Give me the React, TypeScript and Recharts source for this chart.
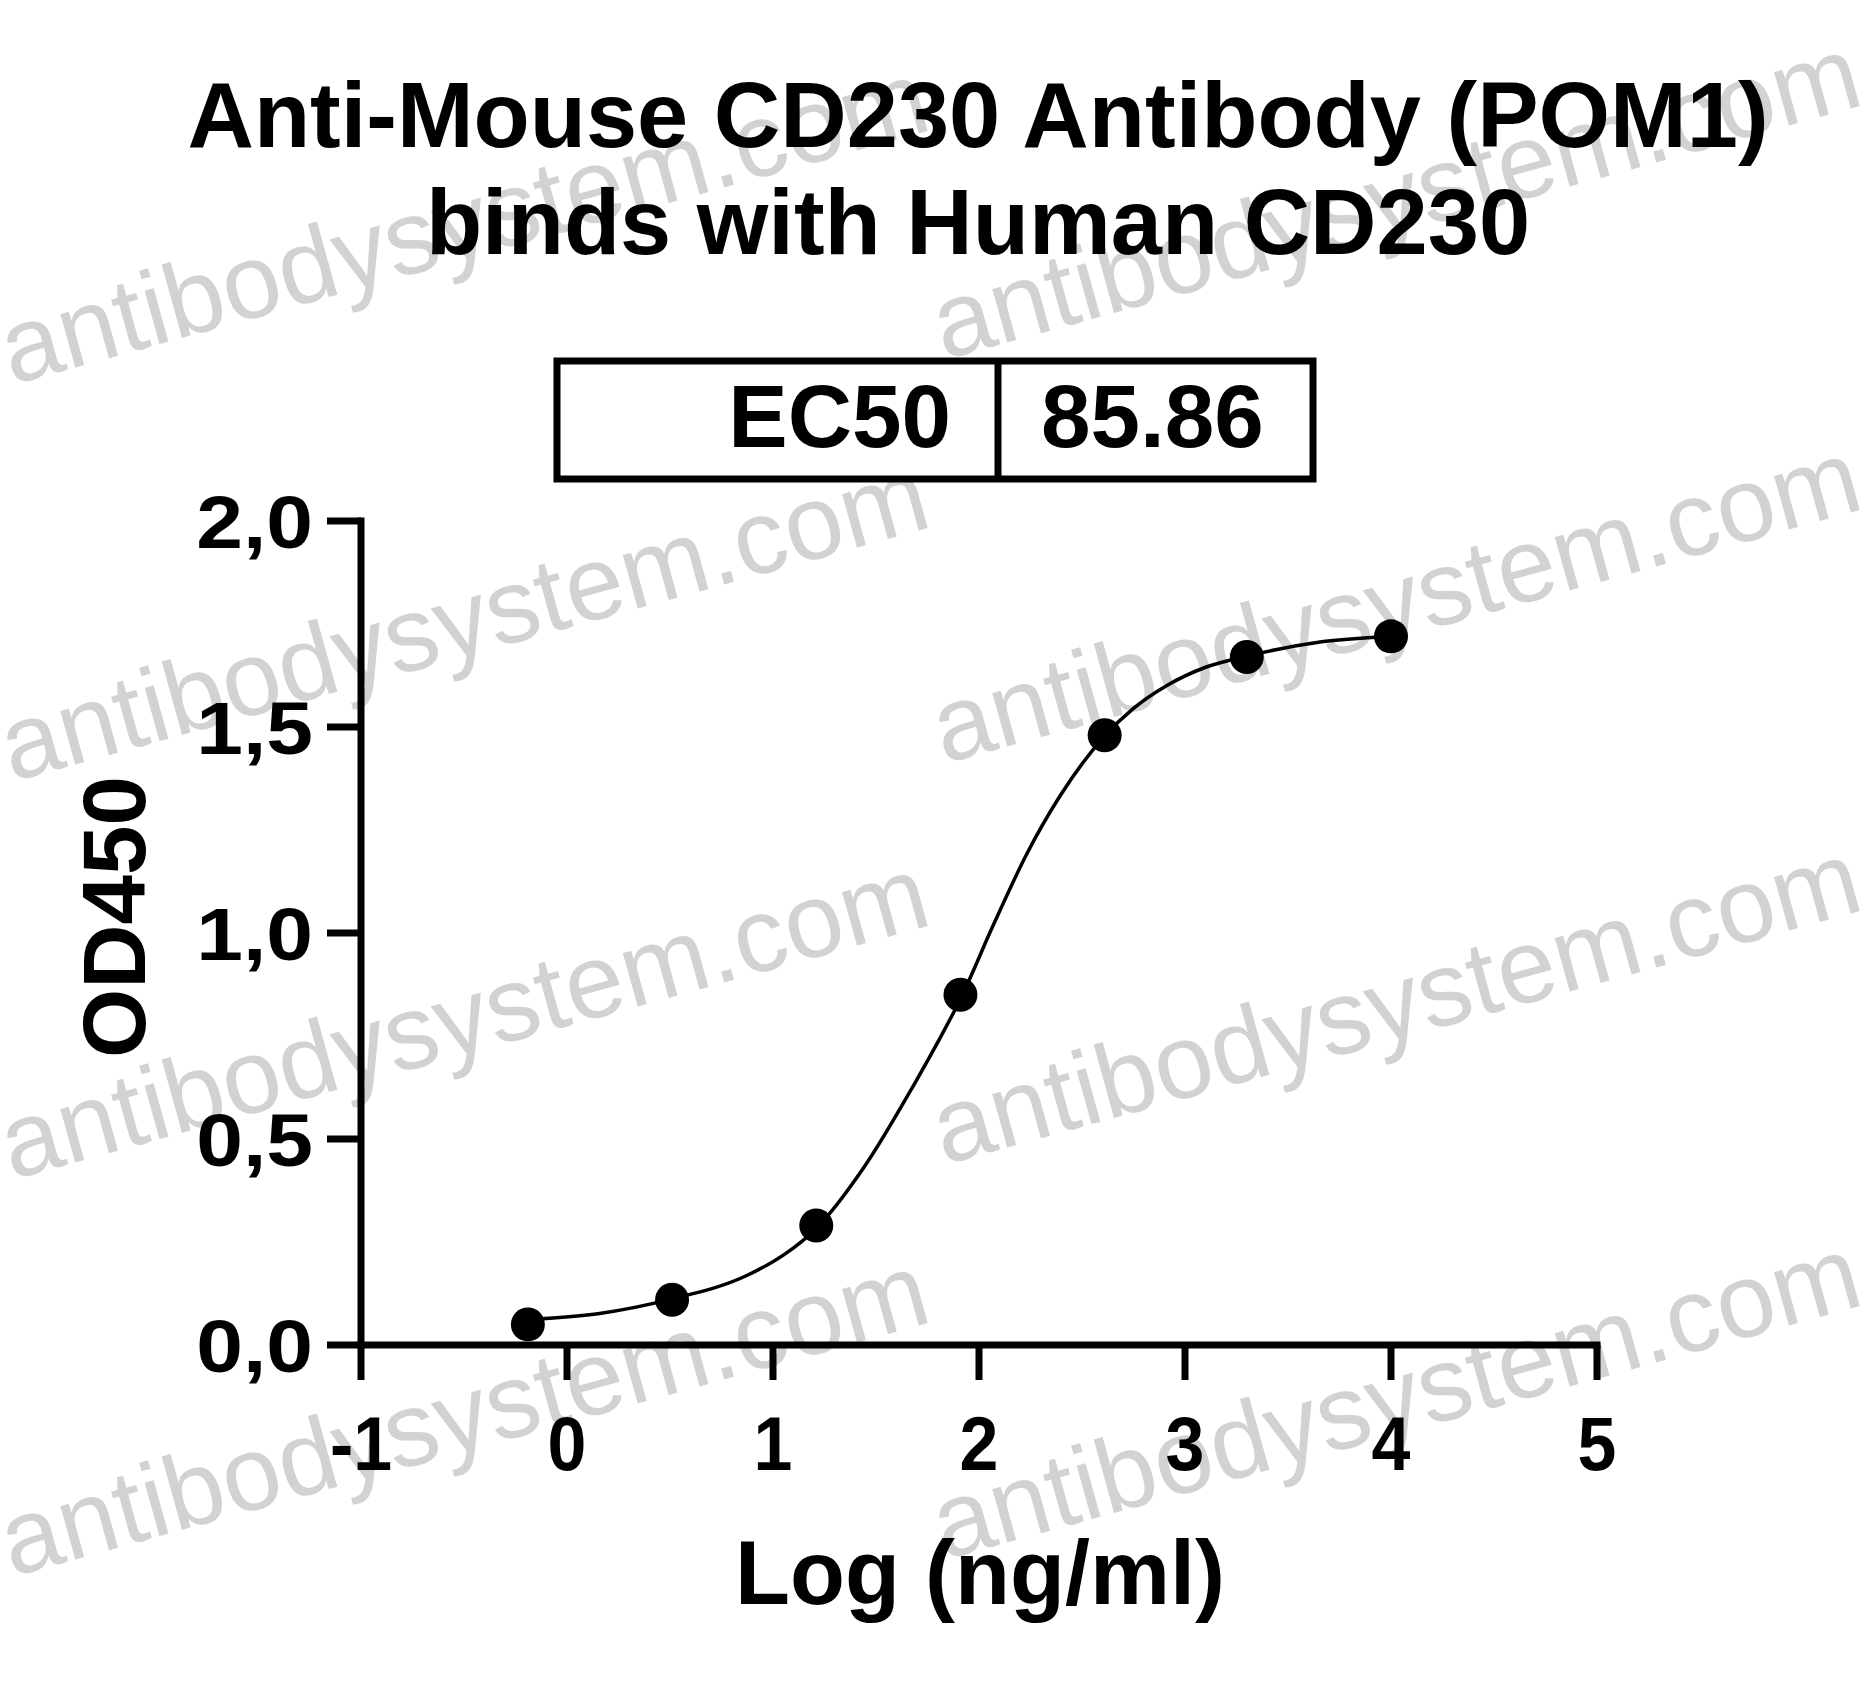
import React from 'react';
import { ComposedChart, Line, Scatter, XAxis, YAxis } from 'recharts';

// measured points: log10 concentration (ng/ml) vs OD450
const doseLog = [-0.19, 0.51, 1.21, 1.91, 2.61, 3.3, 4.0];
const od450 = [0.05, 0.11, 0.29, 0.85, 1.48, 1.67, 1.72];

// fitted curve
const fitLog = [-0.19, 0.15, 0.51, 0.87, 1.05, 1.21, 1.44, 1.68, 1.8, 1.91, 2.07, 2.23, 2.39, 2.61, 2.75, 2.91, 3.1, 3.3, 3.64, 4.0];
const fitOd = [0.062, 0.076, 0.112, 0.168, 0.218, 0.283, 0.43, 0.628, 0.735, 0.84, 1.02, 1.19, 1.33, 1.478, 1.545, 1.6, 1.645, 1.672, 1.705, 1.72];

const xTicks = [-1, 0, 1, 2, 3, 4, 5];
const yTicks = [0, 0.5, 1, 1.5, 2];

const title = ['Anti-Mouse CD230 Antibody (POM1)', 'binds with Human CD230'];
const ec50Label = 'EC50';
const ec50Value = '85.86';

const points = doseLog.map((x, i) => ({ x, y: od450[i] }));
const curve = fitLog.map((x, i) => ({ x, y: fitOd[i] }));

const FONT = '"Liberation Sans", Arial, sans-serif';

const watermarkRows = [
  { x: 12, y: 385 },
  { x: 12, y: 782 },
  { x: 12, y: 1180 },
  { x: 12, y: 1577 },
  { x: 944, y: 360 },
  { x: 944, y: 764 },
  { x: 944, y: 1165 },
  { x: 944, y: 1560 },
];

const YTick = (props: any) => {
  const { x, y, payload } = props;
  const txt = payload.value.toFixed(1).replace('.', ',');
  return (
    <text
      transform={`translate(${x},${y + 27}) scale(1.12,1)`}
      textAnchor="end"
      fontFamily={FONT}
      fontWeight="bold"
      fontSize={75}
      fill="#000"
    >
      {txt}
    </text>
  );
};

const XTick = (props: any) => {
  const { x, y, payload } = props;
  return (
    <text
      transform={`translate(${x},${y + 52}) scale(0.92,1)`}
      textAnchor="middle"
      fontFamily={FONT}
      fontWeight="bold"
      fontSize={76}
      fill="#000"
    >
      {payload.value}
    </text>
  );
};

const Dot = (props: any) => <circle cx={props.cx} cy={props.cy} r={17} fill="#000" />;

const axisStyle = { stroke: '#000', strokeWidth: 7, strokeLinecap: 'square' as const };
const tickStyle = { stroke: '#000', strokeWidth: 7 };

export default function App() {
  return (
    <div style={{ position: 'absolute', left: 0, top: 0, width: 1873, height: 1688, background: '#fff' }}>
      <svg width={1873} height={1688} style={{ position: 'absolute', left: 0, top: 0 }}>
        {watermarkRows.map((w, i) => (
          <text
            key={i}
            x={w.x}
            y={w.y}
            transform={`rotate(-15.5, ${w.x}, ${w.y})`}
            fontFamily={FONT}
            fontSize={105}
            fill="#d2d2d2"
          >
            antibodysystem.com
          </text>
        ))}
      </svg>

      <div style={{ position: 'absolute', left: 0, top: 0 }}>
        <ComposedChart width={1873} height={1688} margin={{ top: 521, right: 276, bottom: 0, left: 0 }}>
          <XAxis
            type="number"
            dataKey="x"
            domain={[-1, 5]}
            ticks={xTicks}
            interval={0}
            height={343}
            tickSize={35}
            tickMargin={38}
            axisLine={axisStyle}
            tickLine={tickStyle}
            tick={<XTick />}
          />
          <YAxis
            type="number"
            dataKey="y"
            domain={[0, 2]}
            ticks={yTicks}
            interval={0}
            width={361}
            tickSize={34}
            tickMargin={14}
            axisLine={axisStyle}
            tickLine={tickStyle}
            tick={<YTick />}
          />
          <Line
            data={curve}
            dataKey="y"
            type="monotone"
            stroke="#000"
            strokeWidth={3.5}
            dot={false}
            activeDot={false}
            isAnimationActive={false}
          />
          <Scatter data={points} dataKey="y" shape={<Dot />} isAnimationActive={false} />
        </ComposedChart>
      </div>

      <svg width={1873} height={1688} style={{ position: 'absolute', left: 0, top: 0, pointerEvents: 'none' }}>
        <g fontFamily={FONT} fontWeight="bold" fill="#000">
          <text x={978} y={147} textAnchor="middle" fontSize={92}>{title[0]}</text>
          <text x={978} y={254} textAnchor="middle" fontSize={92}>{title[1]}</text>

          <rect x={557} y={361} width={756} height={118} fill="none" stroke="#000" strokeWidth={7} />
          <line x1={998} y1={361} x2={998} y2={479} stroke="#000" strokeWidth={7} />
          <text x={951} y={447} textAnchor="end" fontSize={89}>{ec50Label}</text>
          <text x={1041} y={447} textAnchor="start" fontSize={89}>{ec50Value}</text>

          <text x={145} y={917} textAnchor="middle" fontSize={89} transform="rotate(-90, 145, 917)">OD450</text>
          <text x={980} y={1604} textAnchor="middle" fontSize={90}>Log (ng/ml)</text>
        </g>
      </svg>
    </div>
  );
}
